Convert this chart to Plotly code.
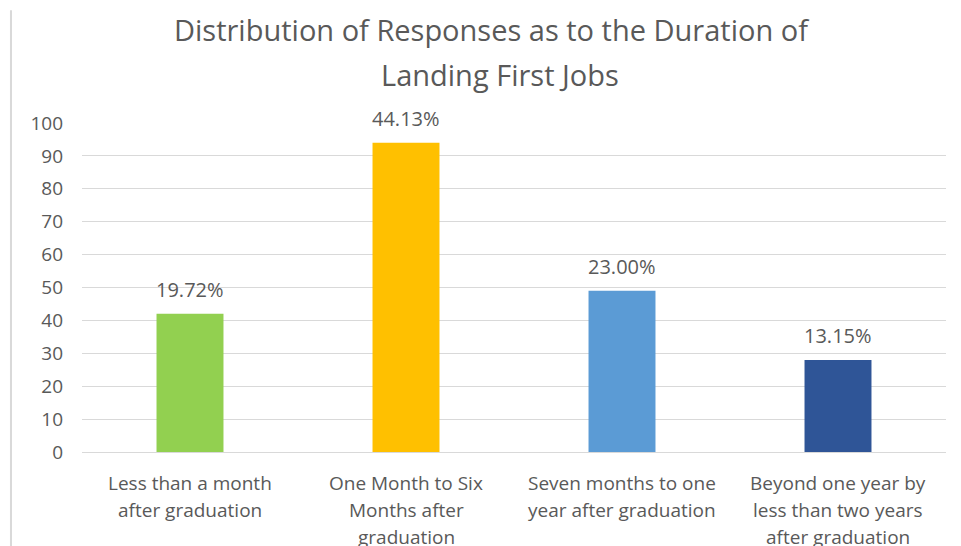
import plotly.graph_objects as go

# Survey results: number of respondents by time taken to land a first job
title_lines = ["Distribution of Responses as to the Duration of", "Landing First Jobs"]
categories = [
    "Less than a month after graduation",
    "One Month to Six Months after graduation",
    "Seven months to one year after graduation",
    "Beyond one year by less than two years after graduation",
]
label_lines = [
    ["Less than a month", "after graduation"],
    ["One Month to Six", "Months after", "graduation"],
    ["Seven months to one", "year after graduation"],
    ["Beyond one year by", "less than two years", "after graduation"],
]
counts = [42, 94, 49, 28]
colors = ["#92D050", "#FFC000", "#5B9BD5", "#2F5597"]
y_ticks = list(range(0, 101, 10))

total = sum(counts)
pct_labels = [f"{c / total * 100:.2f}%" for c in counts]

FONT = "Open Sans, Noto Sans, sans-serif"
GREY = "#595959"

fig = go.Figure(
    go.Bar(
        x=categories,
        y=counts,
        marker=dict(color=colors, line=dict(width=0)),
        hoverinfo="skip",
    )
)

annotations = []
# two-line chart title, each line placed separately for the wider line gap
title_pos = [(0.474, 1.2827), (0.484, 1.1459)]
for line, (tx, ty) in zip(title_lines, title_pos):
    annotations.append(
        dict(
            x=tx, y=ty, xref="paper", yref="paper", text=line, showarrow=False,
            xanchor="center", yanchor="middle",
            font=dict(family=FONT, size=29, color=GREY),
        )
    )
# percentage labels above each bar
for cat, val, txt in zip(categories, counts, pct_labels):
    annotations.append(
        dict(
            x=cat, y=val, xref="x", yref="y", text=txt, showarrow=False,
            yanchor="middle", yshift=24,
            font=dict(family=FONT, size=20, color=GREY),
        )
    )
# category labels, one annotation per line for even line spacing
for cat, lines in zip(categories, label_lines):
    for i, line in enumerate(lines):
        annotations.append(
            dict(
                x=cat, y=0, xref="x", yref="y", text=line, showarrow=False,
                yanchor="middle", yshift=-31 - 27 * i,
                font=dict(family=FONT, size=19, color=GREY),
            )
        )

fig.update_layout(
    width=961,
    height=546,
    margin=dict(l=82, r=15, t=123, b=94),
    paper_bgcolor="white",
    plot_bgcolor="white",
    showlegend=False,
    bargap=0.69,
    xaxis=dict(
        showticklabels=False,
        showgrid=False,
        showline=True,
        linecolor="#D9D9D9",
        linewidth=1,
        zeroline=False,
        ticks="",
    ),
    yaxis=dict(
        range=[0, 100],
        tickvals=y_ticks,
        showgrid=True,
        gridcolor="#D9D9D9",
        gridwidth=1,
        zeroline=False,
        showline=False,
        ticks="",
        ticklabelstandoff=18,
        tickfont=dict(family=FONT, size=19, color=GREY),
    ),
    annotations=annotations,
    shapes=[
        # thin frame line at the left edge of the chart area
        dict(
            type="line", xref="paper", yref="paper",
            x0=-0.0822, x1=-0.0822, y0=1.343, y1=-0.3,
            line=dict(color="#D9D9D9", width=2),
        )
    ],
)

fig.write_html("out.html")
